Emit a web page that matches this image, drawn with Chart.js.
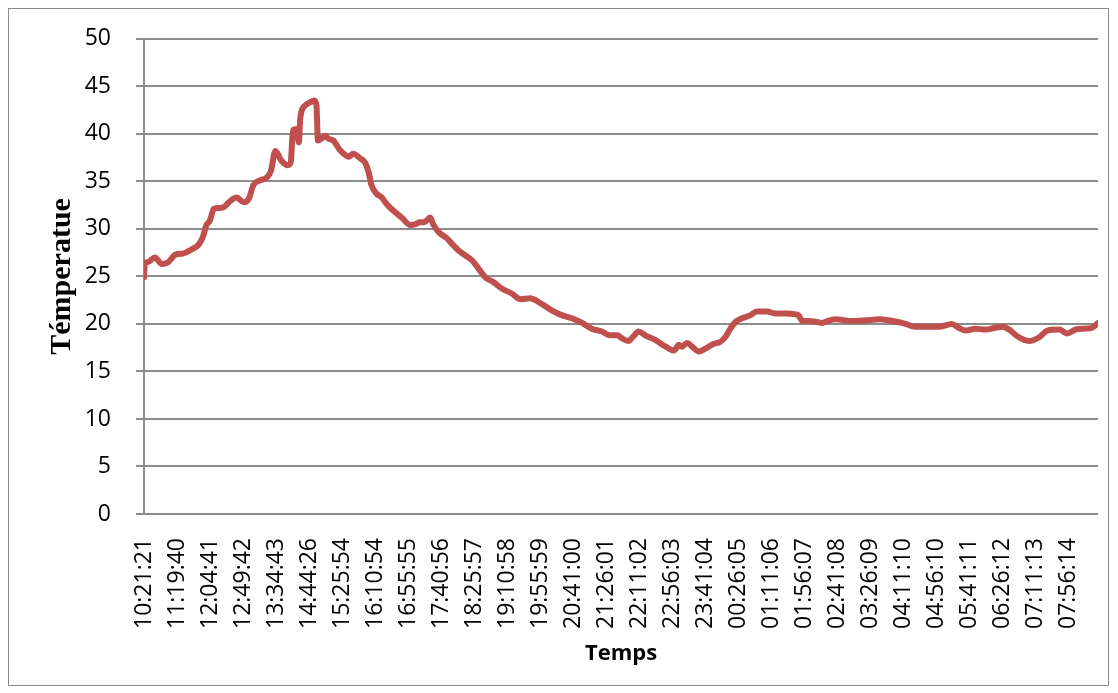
<!DOCTYPE html>
<html>
<head>
<meta charset="utf-8">
<script src="https://cdn.jsdelivr.net/npm/chart.js@4/dist/chart.umd.min.js"></script>
<style>
  html, body { margin: 0; padding: 0; background: #fff; }
  #wrap { position: relative; width: 1118px; height: 693px; }
  #wrap canvas { position: absolute; left: 0; top: 0; }
  #frame { position: absolute; left: 8px; top: 8px; width: 1101px; height: 678px;
           border: 1px solid #8a8a8a; box-sizing: border-box; pointer-events: none; }
</style>
</head>
<body>
<div id="wrap">
  <canvas id="chart" width="1118" height="693"></canvas>
  <div id="frame"></div>
</div>
<script>
// Time stamps shown under the axis, one every 45 readings
const timeLabels = [
  '10:21:21', '11:19:40', '12:04:41', '12:49:42', '13:34:43', '14:44:26',
  '15:25:54', '16:10:54', '16:55:55', '17:40:56', '18:25:57', '19:10:58',
  '19:55:59', '20:41:00', '21:26:01', '22:11:02', '22:56:03', '23:41:04',
  '00:26:05', '01:11:06', '01:56:07', '02:41:08', '03:26:09', '04:11:10',
  '04:56:10', '05:41:11', '06:26:12', '07:11:13', '07:56:14'
];
const labelStep = 45;      // readings between two labelled time stamps
const lastReading = 1300;  // index of the final reading

// Reading index and measured temperature (°C)
const readingIndex = [
  0, 1, 5, 15, 24, 33, 43, 53, 64, 74, 80, 85, 90, 95, 103, 109, 117, 126, 136, 143,
  149, 158, 167, 173, 179, 187, 196, 200, 203, 208, 211, 213, 220, 226, 232, 235, 237, 242, 247, 251,
  258, 267, 279, 285, 295, 301, 306, 310, 317, 324, 331, 340, 351, 363, 370, 376, 382, 390, 394, 401,
  413, 420, 429, 438, 447, 456, 465, 476, 488, 501, 513, 526, 540, 556, 570, 583, 597, 610, 624, 635,
  645, 651, 660, 667, 674, 683, 697, 711, 722, 729, 733, 740, 747, 756, 765, 776, 785, 792, 799, 806,
  815, 826, 835, 849, 860, 874, 888, 892, 897, 906, 917, 924, 931, 942, 965, 988, 1001, 1020, 1038, 1051,
  1065, 1083, 1101, 1110, 1120, 1133, 1147, 1160, 1170, 1179, 1190, 1206, 1220, 1231, 1247, 1258, 1269, 1281, 1292, 1300
];
const temperature = [
  24.9, 26.3, 26.5, 27.0, 26.3, 26.5, 27.3, 27.4, 27.8, 28.3, 29.1, 30.4, 30.9, 32.1, 32.2, 32.3, 32.9, 33.3, 32.8, 33.2,
  34.6, 35.1, 35.4, 36.1, 38.2, 37.2, 36.7, 37.0, 40.4, 40.5, 39.1, 41.7, 43.0, 43.3, 43.5, 43.0, 39.3, 39.5, 39.8, 39.5,
  39.3, 38.3, 37.6, 37.9, 37.4, 37.0, 36.0, 34.6, 33.7, 33.3, 32.6, 31.9, 31.2, 30.4, 30.5, 30.7, 30.7, 31.2, 30.5, 29.7,
  29.0, 28.4, 27.7, 27.2, 26.7, 25.8, 24.9, 24.4, 23.7, 23.2, 22.6, 22.7, 22.2, 21.4, 20.9, 20.6, 20.1, 19.5, 19.2, 18.8,
  18.8, 18.5, 18.2, 18.7, 19.2, 18.8, 18.3, 17.6, 17.2, 17.8, 17.6, 18.0, 17.6, 17.1, 17.4, 17.9, 18.1, 18.6, 19.5, 20.2,
  20.6, 20.9, 21.3, 21.3, 21.1, 21.1, 21.0, 20.9, 20.3, 20.3, 20.2, 20.1, 20.3, 20.5, 20.3, 20.4, 20.5, 20.3, 20.0, 19.7,
  19.7, 19.7, 20.0, 19.6, 19.3, 19.5, 19.4, 19.6, 19.7, 19.4, 18.7, 18.2, 18.6, 19.3, 19.4, 19.0, 19.4, 19.5, 19.6, 20.1
];

// Temperature axis
const yMin = 0, yMax = 50, yStep = 5;

const gridGrey = '#8c8c8c';
const points = readingIndex.map((x, i) => ({ x: x, y: temperature[i] }));

new Chart(document.getElementById('chart'), {
  type: 'line',
  data: {
    datasets: [{
      data: points,
      borderColor: '#c0504d',
      borderWidth: 6,
      pointRadius: 0,
      borderJoinStyle: 'round',
      borderCapStyle: 'round',
      cubicInterpolationMode: 'monotone',
      fill: false
    }]
  },
  options: {
    responsive: false,
    animation: false,
    devicePixelRatio: 1,
    layout: { padding: { top: 38, right: 20, left: 0, bottom: 0 } },
    plugins: { legend: { display: false }, tooltip: { enabled: false } },
    scales: {
      x: {
        type: 'linear',
        min: 0,
        max: lastReading,
        afterBuildTicks: (scale) => {
          scale.ticks = timeLabels.map((_, i) => ({ value: i * labelStep }));
        },
        afterFit: (scale) => { scale.height = 179; },
        grid: { display: false },
        border: { display: false },
        ticks: {
          autoSkip: false,
          minRotation: 90,
          maxRotation: 90,
          padding: 16,
          color: '#000',
          font: { family: 'Open Sans', size: 23 },
          callback: (v) => timeLabels[Math.round(v / labelStep)]
        },
        title: {
          display: true,
          text: 'Temps',
          color: '#000',
          font: { family: 'Open Sans', size: 22, weight: 'bold' },
          padding: { top: 0, bottom: 26 }
        }
      },
      y: {
        min: yMin,
        max: yMax,
        afterFit: (scale) => { scale.width = 144; },
        grid: { color: gridGrey, lineWidth: 2, tickLength: 8 },
        border: { color: gridGrey, width: 2 },
        ticks: {
          stepSize: yStep,
          padding: 25,
          color: '#000',
          font: { family: 'Open Sans', size: 23 }
        },
        title: {
          display: true,
          text: 'Témperatue',
          color: '#000',
          font: { family: 'Liberation Serif', size: 30, weight: 'bold' },
          padding: { top: 44, bottom: 0 }
        }
      }
    }
  }
});
</script>
</body>
</html>
